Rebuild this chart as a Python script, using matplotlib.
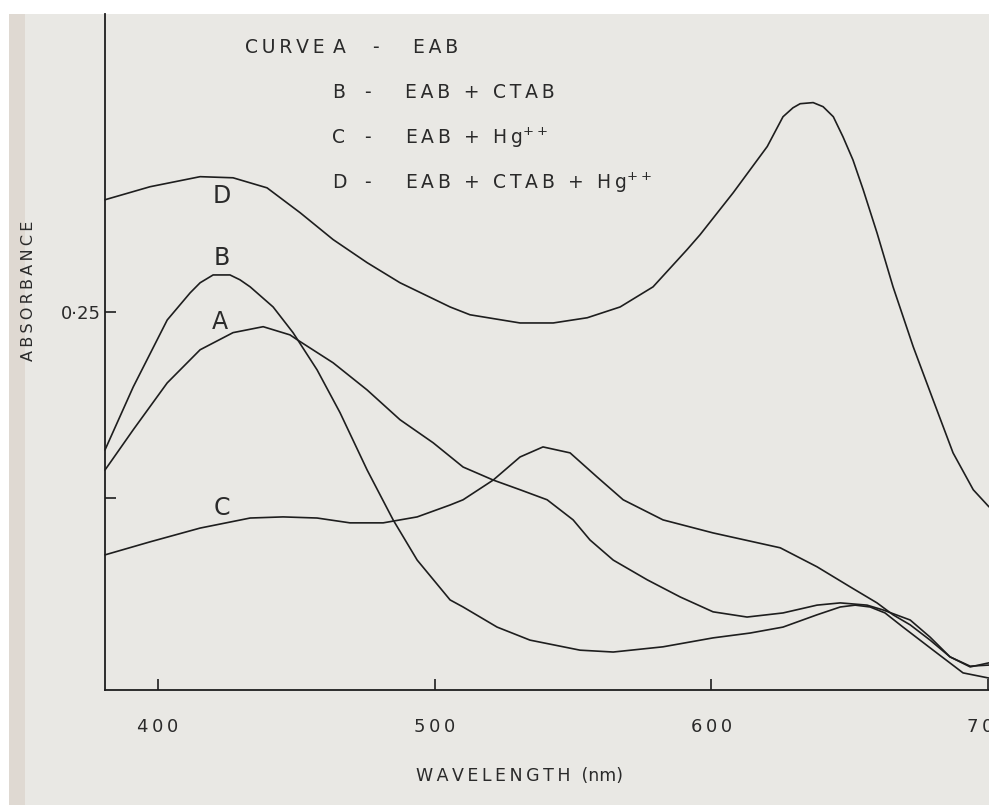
import matplotlib
matplotlib.use("Agg")
import matplotlib.pyplot as plt
from matplotlib.patches import Rectangle

# ---- data ----
wl_A = [380.8, 382.6, 391.0, 403.3, 415.2, 427.1, 438.0, 447.7, 450.3, 463.3, 475.6, 487.5, 499.5,
        510.3, 521.2, 530.9, 540.7, 550.1, 556.2, 564.6, 576.9, 588.8, 600.7, 613.0, 626.0, 638.3,
        646.7, 656.4, 662.2, 672.0, 679.2, 686.4, 693.7, 700.5]
abs_A = [0.2075, 0.2094, 0.2183, 0.2309, 0.2398, 0.2444, 0.2460, 0.2438, 0.2425, 0.2363, 0.2290,
         0.2210, 0.2148, 0.2083, 0.2048, 0.2022, 0.1995, 0.1941, 0.1887, 0.1833, 0.1780, 0.1734,
         0.1694, 0.1680, 0.1691, 0.1712, 0.1718, 0.1712, 0.1699, 0.1672, 0.1626, 0.1573, 0.1546,
         0.1557]

wl_B = [380.8, 391.0, 403.3, 411.6, 415.2, 419.9, 426.0, 429.6, 433.3, 441.6, 448.8, 457.5, 465.8,
        475.6, 485.0, 493.7, 505.6, 510.3, 522.6, 534.5, 552.6, 564.6, 582.6, 600.7, 614.1, 626.0,
        638.3, 646.7, 652.1, 657.5, 662.9, 669.4, 680.3, 691.1, 700.5]
abs_B = [0.2129, 0.2298, 0.2478, 0.2551, 0.2578, 0.2599, 0.2599, 0.2586, 0.2567, 0.2513, 0.2444,
         0.2344, 0.2229, 0.2075, 0.1941, 0.1833, 0.1726, 0.1707, 0.1653, 0.1618, 0.1591, 0.1586,
         0.1600, 0.1624, 0.1637, 0.1653, 0.1686, 0.1707, 0.1712, 0.1707, 0.1691, 0.1653, 0.1591,
         0.1530, 0.1516]

wl_C = [380.8, 397.1, 415.2, 433.3, 445.2, 457.5, 469.4, 481.4, 493.7, 505.6, 510.3, 521.2, 530.9,
        539.2, 549.0, 558.8, 568.2, 582.6, 600.7, 625.0, 638.3, 650.3, 660.0, 665.8, 672.0, 679.2,
        686.4, 693.7, 700.5]
abs_C = [0.1847, 0.1882, 0.1919, 0.1946, 0.1949, 0.1946, 0.1933, 0.1933, 0.1949, 0.1981, 0.1995,
         0.2048, 0.2110, 0.2137, 0.2121, 0.2056, 0.1995, 0.1941, 0.1906, 0.1866, 0.1815, 0.1761,
         0.1718, 0.1686, 0.1659, 0.1618, 0.1573, 0.1548, 0.1551]

wl_D = [380.8, 397.1, 415.2, 427.1, 439.4, 451.4, 463.3, 475.6, 487.5, 505.6, 512.8, 530.9, 542.9,
        555.2, 567.1, 579.0, 591.3, 596.0, 608.0, 620.3, 626.0, 629.6, 632.2, 636.9, 640.5, 644.2,
        647.7, 651.3, 655.0, 660.0, 665.8, 673.1, 680.3, 687.5, 694.8, 700.5]
abs_D = [0.2801, 0.2836, 0.2863, 0.2860, 0.2833, 0.2766, 0.2694, 0.2632, 0.2578, 0.2513, 0.2492,
         0.2470, 0.2470, 0.2484, 0.2513, 0.2567, 0.2667, 0.2707, 0.2820, 0.2944, 0.3024, 0.3048,
         0.3059, 0.3062, 0.3051, 0.3024, 0.2970, 0.2908, 0.2828, 0.2712, 0.2567, 0.2406, 0.2263,
         0.2121, 0.2022, 0.1976]

x_ticks = [400, 500, 600, 700]
x_ticklabels = ["400", "500", "600", "700"]
y_ticks = [0.20, 0.25]
y_ticklabels = ["", "0·25"]

legend_letters = ["A", "B", "C", "D"]
legend_texts = ["EAB", "EAB + CTAB", "EAB + Hg", "EAB + CTAB + Hg"]
legend_super = ["", "", r"$^{++}$", r"$^{++}$"]

THIN = "\u2009"


def spaced(s):
    return THIN.join(s)


# ---- figure ----
paper = "#e9e8e4"
ink = "#1e1e1e"
txtc = "#2a2a2a"
W, H = 989, 805
fig = plt.figure(figsize=(W / 100, H / 100), dpi=100, facecolor=paper)

# white scan margins
fig.add_artist(Rectangle((0, 1 - 14 / H), 1, 14 / H, transform=fig.transFigure,
                         facecolor="white", edgecolor="none", zorder=-5))
fig.add_artist(Rectangle((0, 0), 9 / W, 1, transform=fig.transFigure,
                         facecolor="white", edgecolor="none", zorder=-5))
fig.add_artist(Rectangle((9 / W, 0), 16 / W, 1 - 14 / H, transform=fig.transFigure,
                         facecolor="#d9cfc6", edgecolor="none", zorder=-4, alpha=0.6))

ax = fig.add_axes([105 / W, 1 - 690 / H, 1 - 105 / W, (690 - 14) / H])
ax.set_facecolor("none")

for wl, a in [(wl_A, abs_A), (wl_B, abs_B), (wl_C, abs_C), (wl_D, abs_D)]:
    ax.plot(wl, a, color=ink, lw=1.2, solid_joinstyle="round", solid_capstyle="round",
            clip_on=False)

ax.set_xlim(380.8, 700.5)
ax.set_ylim(0.1484, 0.3300)

for s in ["top", "right"]:
    ax.spines[s].set_visible(False)
for s in ["left", "bottom"]:
    ax.spines[s].set_color(ink)
    ax.spines[s].set_linewidth(1.3)

ax.set_xticks(x_ticks)
ax.set_xticklabels([spaced(t) for t in x_ticklabels])
ax.set_yticks(y_ticks)
ax.set_yticklabels(y_ticklabels)
ax.tick_params(axis="both", direction="in", length=8, width=1.2, color=ink,
               labelcolor=txtc, labelsize=13)
ax.tick_params(axis="x", pad=20)
ax.tick_params(axis="y", pad=3)

ax.set_xlabel(spaced("WAVELENGTH") + "  (nm)", fontsize=12.5, color=txtc)
ax.xaxis.set_label_coords((520 - 105) / (W - 105), -(776 - 690) / (690 - 14))
ax.xaxis.label.set_va("center")
ax.set_ylabel(spaced("ABSORBANCE"), fontsize=11.5, color=txtc)
ax.yaxis.set_label_coords(-(105 - 29) / (W - 105), 1 - (291 - 14) / (690 - 14))
ax.yaxis.label.set_va("center")


def axfrac(px, py):
    return ((px - 105) / (W - 105), 1 - (py - 14) / (690 - 14))


# curve labels
for lab, (px, py) in zip(["D", "B", "A", "C"], [(222, 196), (222, 258), (220, 322), (222, 508)]):
    ax.text(*axfrac(px, py), lab, transform=ax.transAxes, fontsize=17, color=txtc,
            ha="center", va="center")

# legend block
ax.text(*axfrac(245, 48), spaced("CURVE"), transform=ax.transAxes, fontsize=13.5,
        color=txtc, ha="left", va="center")
letter_x = [333, 332, 332, 332]
dash_x = [372, 364, 364, 364]
text_x = [413, 405, 405, 405]
rows_y = [48, 93, 138, 183]
for lx, dx, tx, py, let, txt, sup in zip(letter_x, dash_x, text_x, rows_y,
                                          legend_letters, legend_texts, legend_super):
    ax.text(*axfrac(lx, py), let, transform=ax.transAxes, fontsize=13.5, color=txtc,
            ha="left", va="center")
    ax.text(*axfrac(dx, py), "-", transform=ax.transAxes, fontsize=13.5, color=txtc,
            ha="left", va="center")
    ax.text(*axfrac(tx, py), spaced(txt) + sup, transform=ax.transAxes, fontsize=13.5,
            color=txtc, ha="left", va="center")

fig.savefig("out.png", dpi=100, facecolor=paper)
